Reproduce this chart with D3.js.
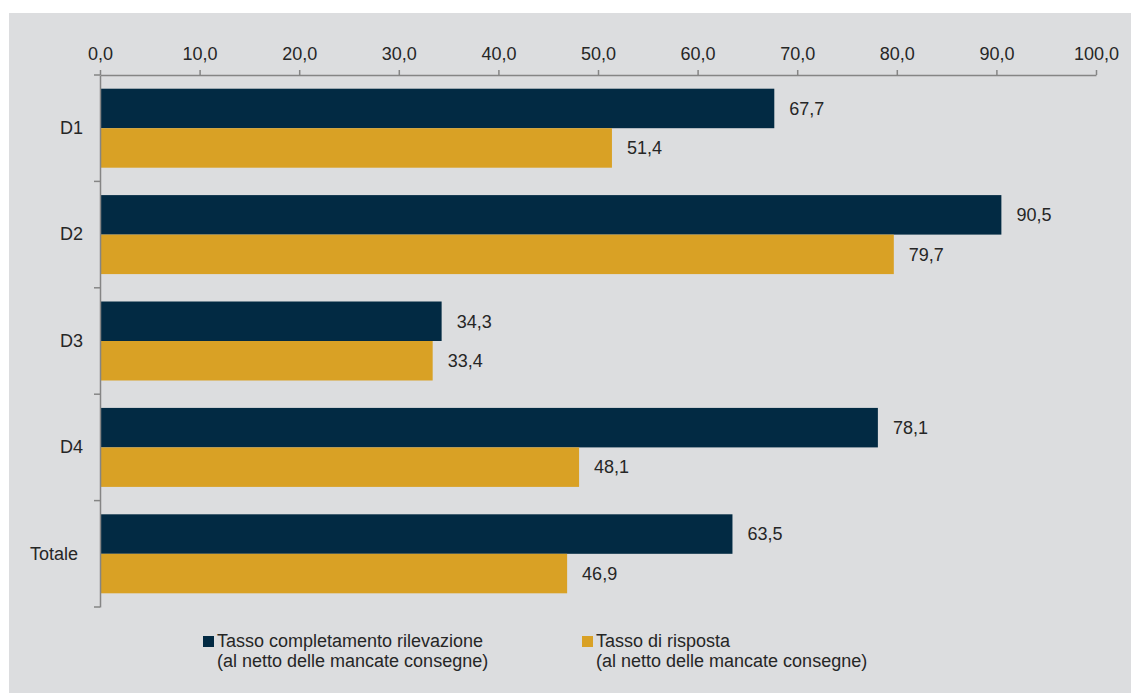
<!DOCTYPE html>
<html>
    <head>
        <meta charset="utf-8">
        <script src="https://d3js.org/d3.v7.min.js"></script>
        <style>
            body { margin:0; background:#fff; }
            text { font-family: "Liberation Sans", Arial, sans-serif; fill:#262626; white-space: pre; }
        </style>
    </head>

    <body>
        <script>
            var categories = ["D1", "D2", "D3", "D4", "Totale "];
            var seriesNames = ["Tasso completamento rilevazione", "Tasso di risposta"];
            var completamento = [67.7, 90.5, 34.3, 78.1, 63.5];
            var risposta = [51.4, 79.7, 33.4, 48.1, 46.9];
            var xTicks = [0, 10, 20, 30, 40, 50, 60, 70, 80, 90, 100];
            var legendSub = "(al netto delle mancate consegne)";

            var colors = ["#022a43", "#d9a125"];

            var width = 1131,
                height = 693;

            var it = d3.formatLocale({decimal: ",", thousands: ".", grouping: [3], currency: ["", "€"]});
            var fmt = it.format(".1f");

            var svg = d3.select("body").append("svg")
                    .attr("width", width)
                    .attr("height", height);

            svg.append("rect")
                    .attr("x", 9).attr("y", 13)
                    .attr("width", width - 9).attr("height", height - 13)
                    .attr("fill", "#dcdddf");

            var x = d3.scaleLinear()
                    .domain([0, 100])
                    .range([100, 1096]);

            var y = d3.scaleBand()
                    .domain(categories)
                    .range([75, 607])
                    .padding(0);

            var ySub = d3.scaleBand()
                    .domain([0, 1])
                    .range([0, y.bandwidth()])
                    .paddingInner(0)
                    .paddingOuter(0.347);

            var data = categories.map(function (c, i) {
                return {cat: c, values: [completamento[i], risposta[i]]};
            });

            var groups = svg.selectAll("g.cat")
                    .data(data)
                    .enter().append("g")
                    .attr("class", "cat")
                    .attr("transform", function (d) { return "translate(0," + y(d.cat) + ")"; });

            groups.selectAll("rect")
                    .data(function (d) { return d.values; })
                    .enter().append("rect")
                    .attr("x", x(0))
                    .attr("y", function (d, j) { return ySub(j); })
                    .attr("width", function (d) { return x(d) - x(0); })
                    .attr("height", ySub.bandwidth())
                    .attr("fill", function (d, j) { return colors[j]; });

            groups.selectAll("text.val")
                    .data(function (d) { return d.values; })
                    .enter().append("text")
                    .attr("class", "val")
                    .attr("x", function (d) { return x(d) + 15; })
                    .attr("y", function (d, j) { return ySub(j) + ySub.bandwidth() / 2; })
                    .attr("dy", "0.35em")
                    .style("font-size", "18px")
                    .text(function (d) { return fmt(d); });

            // top axis
            var xAxis = d3.axisTop(x)
                    .tickValues(xTicks)
                    .tickSize(5)
                    .tickSizeOuter(0)
                    .tickPadding(10)
                    .tickFormat(fmt);

            var gx = svg.append("g")
                    .attr("transform", "translate(0,75)")
                    .call(xAxis);
            gx.selectAll("path, line").attr("stroke", "#858585").attr("stroke-width", 1.5);
            gx.selectAll("text").style("font-size", "18px").attr("fill", "#262626");

            // left axis
            var yAxis = d3.axisLeft(y)
                    .tickSize(0)
                    .tickSizeOuter(0)
                    .tickPadding(17);

            var gy = svg.append("g")
                    .attr("transform", "translate(100,0)")
                    .call(yAxis);
            gy.select("path").attr("stroke", "#858585").attr("stroke-width", 1.5);
            gy.selectAll("text").style("font-size", "18px").attr("fill", "#262626");

            var bounds = categories.map(function (c) { return y(c); }).concat([y.range()[1]]);
            gy.selectAll("line.bound")
                    .data(bounds)
                    .enter().append("line")
                    .attr("class", "bound")
                    .attr("x1", -6).attr("x2", 0)
                    .attr("y1", function (d) { return d; })
                    .attr("y2", function (d) { return d; })
                    .attr("stroke", "#858585")
                    .attr("stroke-width", 1.5);

            // legend
            var legendX = [203, 582];
            var legend = svg.selectAll("g.legend")
                    .data(seriesNames)
                    .enter().append("g")
                    .attr("class", "legend")
                    .attr("transform", function (d, i) { return "translate(" + legendX[i] + ",636)"; });

            legend.append("rect")
                    .attr("width", 11).attr("height", 11)
                    .attr("fill", function (d, i) { return colors[i]; });

            legend.append("text")
                    .attr("x", 14).attr("y", 11)
                    .style("font-size", "18px")
                    .text(function (d) { return d; });

            legend.append("text")
                    .attr("x", 14).attr("y", 31)
                    .style("font-size", "18px")
                    .text(legendSub);
        </script>
    </body>
</html>
